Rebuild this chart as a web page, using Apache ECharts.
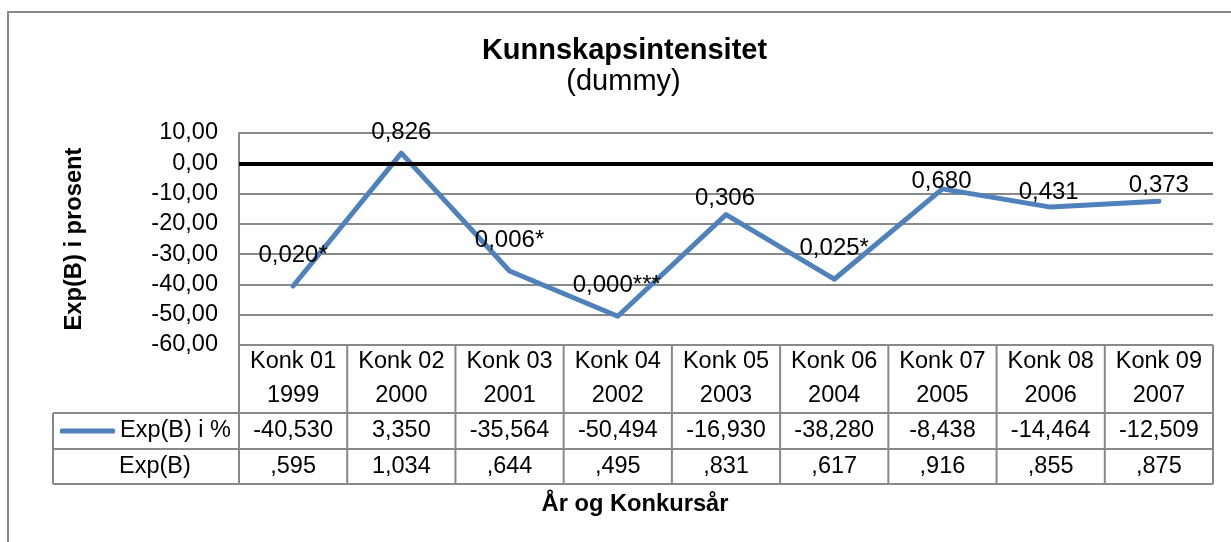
<!DOCTYPE html>
<html><head><meta charset="utf-8">
<script src="https://cdn.jsdelivr.net/npm/echarts@6/dist/echarts.min.js"></script>
<style>html,body{margin:0;padding:0;background:#fff}#c{width:1231px;height:542px}</style>
</head><body><div id="c"></div>
<script>
// ---- data ----
const categories = ['Konk 01','Konk 02','Konk 03','Konk 04','Konk 05','Konk 06','Konk 07','Konk 08','Konk 09'];
const years = ['1999','2000','2001','2002','2003','2004','2005','2006','2007'];
const expBPct = [-40.530, 3.350, -35.564, -50.494, -16.930, -38.280, -8.438, -14.464, -12.509];
const expB = [0.595, 1.034, 0.644, 0.495, 0.831, 0.617, 0.916, 0.855, 0.875];
const sigLabels = ['0,020*','0,826','0,006*','0,000***','0,306','0,025*','0,680','0,431','0,373'];
const seriesName = 'Exp(B) i %';
const rowName2 = 'Exp(B)';
const yMin = -60, yMax = 10, yStep = 10;
const zeroLine = 0;

// ---- layout / style ----
const FONT = '"Liberation Sans", Arial, sans-serif';
const GRID = {left: 239, right: 18, top: 133, bottom: 197};
const labelShift = [[0,-31],[0,-21],[0,-31],[-1,-31],[-1,-16],[0,-31],[-1,-7],[-2,-15],[0,-16]];
const GRAY = '#898989';
const W = 1231, H = 542;
const rowH = [68, 36, 35];
const tableLeft = 53;

const fmt3 = v => v.toFixed(3).replace('.', ',');
const fmtB = v => { let s = v.toFixed(3).replace('.', ','); return s.startsWith('0,') ? s.slice(1) : s; };

const chart = echarts.init(document.getElementById('c'), null, {renderer: 'canvas'});

const plotRight = W - GRID.right;
const plotBottom = H - GRID.bottom;
const colW = (plotRight - GRID.left) / categories.length;
const r1 = plotBottom + rowH[0], r2 = r1 + rowH[1], r3 = r2 + rowH[2];

const graphics = [];
graphics.push({type:'rect', z:-1, shape:{x:8, y:12, width:1400, height:700}, style:{fill:'none', stroke:GRAY, lineWidth:2}});
[r1, r2, r3].forEach(y => graphics.push({type:'line', shape:{x1:tableLeft, y1:y, x2:plotRight, y2:y}, style:{stroke:GRAY, lineWidth:2}}));
graphics.push({type:'line', shape:{x1:tableLeft, y1:r1, x2:tableLeft, y2:r3}, style:{stroke:GRAY, lineWidth:2}});
for (let k = 0; k <= categories.length; k++) {
  const x = GRID.left + k * colW;
  graphics.push({type:'line', shape:{x1:x, y1:plotBottom, x2:x, y2:r3}, style:{stroke:GRAY, lineWidth:2}});
}
graphics.push({type:'text', x:624.5, y:51, style:{text:'Kunnskapsintensitet', font:'bold 29px ' + FONT, fill:'#000', align:'center', verticalAlign:'middle'}});
graphics.push({type:'text', x:623.5, y:81.5, style:{text:'(dummy)', font:'29px ' + FONT, fill:'#000', align:'center', verticalAlign:'middle'}});
graphics.push({type:'text', x:119, y:(r2 + r3) / 2, style:{text:rowName2, font:'23.5px ' + FONT, fill:'#000', align:'left', verticalAlign:'middle'}});
graphics.push({type:'text', x:635, y:504.5, style:{text:'År og Konkursår', font:'bold 23.7px ' + FONT, fill:'#000', align:'center', verticalAlign:'middle'}});

const tableAxis = (margin, lh, fn) => ({
  type:'category', data:categories, position:'bottom', boundaryGap:true,
  axisLine:{show:false, onZero:false}, axisTick:{show:false}, splitLine:{show:false},
  axisLabel:{interval:0, margin:margin, lineHeight:lh, fontSize:23.5, fontFamily:FONT, color:'#000', formatter:(v, i) => fn(i)}
});

const option = {
  animation:false,
  backgroundColor:'#fff',
  color:['#4F81BD'],
  textStyle:{fontFamily:FONT},
  grid:GRID,
  legend:{
    data:[seriesName], left:60, top:r1 + 5, padding:0, icon:'roundRect', itemWidth:55, itemHeight:5,
    selectedMode:false, textStyle:{fontSize:23.5, fontFamily:FONT, color:'#000', lineHeight:26}
  },
  xAxis:[
    {type:'category', data:categories, boundaryGap:true,
     axisLine:{show:false}, axisTick:{show:false}, axisLabel:{show:false}, splitLine:{show:false}},
    tableAxis(0, 34, i => categories[i] + '\n' + years[i]),
    tableAxis(rowH[0], rowH[1], i => fmt3(expBPct[i])),
    tableAxis(rowH[0] + rowH[1], rowH[2] + 1, i => fmtB(expB[i]))
  ],
  yAxis:{
    type:'value', min:yMin, max:yMax, interval:yStep,
    axisLine:{show:true, onZero:false, lineStyle:{color:GRAY, width:2}},
    axisTick:{show:false},
    axisLabel:{margin:21, fontSize:23.5, fontFamily:FONT, color:'#000', formatter:v => v.toFixed(2).replace('.', ',')},
    splitLine:{show:true, lineStyle:{color:GRAY, width:2}},
    name:'Exp(B) i prosent', nameLocation:'middle', nameGap:153,
    nameTextStyle:{fontSize:23.7, fontWeight:'bold', fontFamily:FONT, color:'#000'}
  },
  series:[{
    name:'zero', type:'line', xAxisIndex:0, z:1, silent:true,
    data:[], symbol:'none',
    markLine:{silent:true, symbol:['none','none'], label:{show:false},
      lineStyle:{color:'#000', width:4, type:'solid'}, data:[{yAxis:zeroLine}]}
  },{
    name:seriesName, type:'line', xAxisIndex:0,
    data:expBPct.map((v, i) => ({value:v, label:{offset:labelShift[i]}})),
    symbol:'circle', symbolSize:0, showSymbol:true,
    lineStyle:{width:5, color:'#4F81BD', cap:'round', join:'round'},
    itemStyle:{color:'#4F81BD'},
    label:{show:true, position:'inside', fontSize:24, fontFamily:FONT, color:'#000',
      formatter:p => sigLabels[p.dataIndex]},
    z:3
  }],
  graphic:graphics
};
chart.setOption(option);
</script>
</body></html>
